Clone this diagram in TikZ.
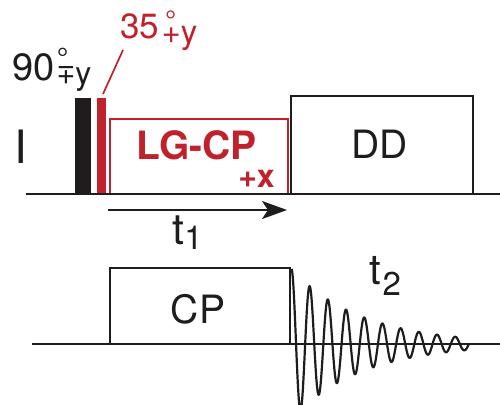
\documentclass[tikz,border=0pt]{standalone}
\usepackage{fontspec}
\setmainfont{TeX Gyre Heros}
\usetikzlibrary{arrows.meta}
\definecolor{pred}{RGB}{193,33,43}
\definecolor{pblack}{RGB}{30,28,29}
\newcommand{\fsz}[1]{\fontsize{#1}{#1}\selectfont}
\begin{document}
\begin{tikzpicture}[x=1pt, y=-1pt, line width=2pt,
  every node/.style={inner sep=0pt, outer sep=0pt},
  seqline/.style={draw=pblack, line width=2pt},
  redline/.style={draw=pred, line width=1.7pt},
  lbl/.style={text=pblack}]
\useasboundingbox (0,0) rectangle (500,404);
\clip (0,0) rectangle (500,404);

% ---- I channel ----
\fill[pblack] (75,98) rectangle (91,194);
\fill[pred] (97,98) rectangle (105.5,194);
\draw[redline] (110,194) rectangle (288,119);
\draw[seqline] (291,194) rectangle (473,96);
\draw[seqline] (26,194) -- (500,194);

\node[lbl, anchor=base, font=\fsz{46}] (lI) at (20.5,163) {I};
\node[text=pred, anchor=base, font=\bfseries\fsz{39}] (lg) at (196.5,159) {LG-CP};
\node[text=pred, anchor=base, font=\bfseries\fsz{32}] (px) at (256.5,187) {+x};
\node[lbl, anchor=base, font=\fsz{39}] (dd) at (379.5,158) {DD};

\node[lbl, anchor=base west, font=\fsz{38}] (l90) at (12.5,80)
  {90\kern2pt\rlap{\raisebox{11.5pt}{\fsz{29}°}}\raisebox{-4pt}{\fsz{32}\rotatebox[origin=c]{180}{±}y}};
\node[text=pred, anchor=base west, font=\fsz{35}] (l35) at (120.5,39)
  {35\kern2.3pt\rlap{\kern3.5pt\raisebox{9pt}{\fsz{28}°}}\raisebox{-5pt}{\fsz{33}+y}};
\coordinate (rtop) at (103,94);
\coordinate (rlab) at (123,50);
\draw[redline] (rtop) -- (rlab);

% ---- t1 arrow ----
\coordinate (a1) at (108,210);
\coordinate (a2) at (287,210);
\draw[pblack, line width=2pt, -{Stealth[length=25pt,width=18pt,inset=6pt]}] (a1) -- (a2);
\node[lbl, anchor=base west, font=\fsz{43}] (t1) at (172.4,244.7) {t\raisebox{-5pt}{\fsz{33}1}};

% ---- S channel ----
\draw[seqline] (110,344) -- (110,268) -- (290,268) -- (290,344);
\draw[seqline] (32,344) -- (500,344);
\node[lbl, anchor=base, font=\fsz{39}] (cp) at (198,323) {CP};
\draw[pblack, line width=2.2pt, line join=round]
  plot[domain=0:177.5, samples=600] ({291.5+\x},{344-75*exp(-\x/70)*cos(19.78*\x)});
\node[lbl, anchor=base west, font=\fsz{42}] (t2) at (369.4,284) {t\kern1.6pt\raisebox{-11pt}{\fsz{33}2}};
\end{tikzpicture}
\end{document}
